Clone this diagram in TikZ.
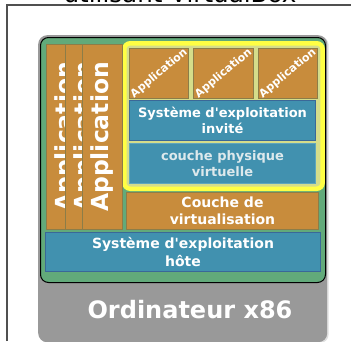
\documentclass[tikz,border=0pt]{standalone}
\usepackage{fontspec}
\setmainfont{DejaVu Sans}
\usetikzlibrary{positioning, fit, shadows, backgrounds}

\definecolor{framegray}{HTML}{505050}
\definecolor{pcgray}{HTML}{999999}
\definecolor{hostgreen}{HTML}{62AA7A}
\definecolor{vmyellow}{HTML}{FFFF44}
\definecolor{vmback}{HTML}{D5DD8A}
\definecolor{apporange}{HTML}{C88C3C}
\definecolor{appedge}{HTML}{8C7D48}
\definecolor{osblue}{HTML}{4191AF}
\definecolor{osedge}{HTML}{3A6898}
\definecolor{hwedge}{HTML}{5FA6BE}
\definecolor{hwtext}{HTML}{DDE9EC}

\tikzset{
  basebox/.style={rectangle, draw, line width=1pt, inner sep=0pt, align=center, text=white},
  appbox/.style={basebox, fill=apporange, draw=appedge},
  sideapp/.style={appbox, anchor=north west, minimum width=40pt, minimum height=185pt,
    font=\bfseries\fontsize{23.5}{28}\selectfont},
  guestapp/.style={appbox, minimum width=59.3pt, minimum height=50pt,
    label={[rotate=40, text=white, inner sep=0pt, font=\bfseries\fontsize{11}{13}\selectfont]center:Application}},
  osbox/.style={basebox, fill=osblue, draw=osedge, font=\bfseries\fontsize{13}{15.6}\selectfont},
  hwbox/.style={osbox, draw=hwedge, text=hwtext},
  pcbox/.style={rectangle, rounded corners=9pt, fill=pcgray, anchor=north west,
    drop shadow={opacity=0.25, shadow xshift=1.5pt, shadow yshift=-1pt}},
  hostbox/.style={rectangle, rounded corners=8pt, draw=black, line width=1pt, fill=hostgreen, anchor=north west},
  vmbox/.style={rectangle, rounded corners=6pt, draw=vmyellow, line width=4.5pt, fill=vmback}
}

\begin{document}
\begin{tikzpicture}[x=1pt, y=-1pt]
  \useasboundingbox (0,0) rectangle (351,341);

  % cadre et titre coupe
  \draw[framegray, line width=1.2pt] (7,341) -- (7,5) -- (351,5);
  \node[anchor=base, inner sep=0pt, font=\fontsize{24.6}{29}\selectfont] (title) at (180,2.5) {utilisant VirtualBox};

  \begin{scope}[on background layer]
    \node[pcbox, minimum width=289pt, minimum height=307pt] (pc) at (38,35) {};
    \node[hostbox, minimum width=285pt, minimum height=245pt] (host) at (40,37) {};
  \end{scope}
  \node[anchor=base, text=white, font=\bfseries\fontsize{24}{29}\selectfont] (pclabel) at (190,318) {Ordinateur x86};

  % applications de l'hote
  \node[sideapp] (appA) at (46,44) {\rotatebox{90}{Application}};
  \node[sideapp] (appB) at (65,44) {\rotatebox{90}{Application}};
  \node[sideapp] (appC) at (82,44) {\rotatebox{90}{Application}};

  % machine virtuelle
  \node[guestapp, anchor=north west] (guestApp1) at (129,48) {};
  \node[guestapp, right=4pt of guestApp1] (guestApp2) {};
  \node[guestapp, right=4pt of guestApp2] (guestApp3) {};
  \node[osbox, anchor=north west, minimum width=186pt, minimum height=40pt] (guestos) at (129,100)
    {Système d\textquotesingle exploitation\\invité};
  \node[hwbox, below=2pt of guestos, minimum width=186pt, minimum height=40pt] (vhw)
    {couche physique\\virtuelle};
  \begin{scope}[on background layer]
    \node[vmbox, inner sep=4.75pt, fit=(guestApp1) (guestApp3) (vhw)] (vm) {};
  \end{scope}

  % couches de l'hote
  \node[appbox, anchor=north west, minimum width=192pt, minimum height=37pt,
    font=\bfseries\fontsize{14}{16.8}\selectfont] (virt) at (126,192) {Couche de\\virtualisation};
  \node[osbox, anchor=north west, minimum width=275pt, minimum height=39pt,
    font=\bfseries\fontsize{14}{17.5}\selectfont] (hostos) at (45,232) {Système d\textquotesingle exploitation\\hôte};
\end{tikzpicture}
\end{document}
